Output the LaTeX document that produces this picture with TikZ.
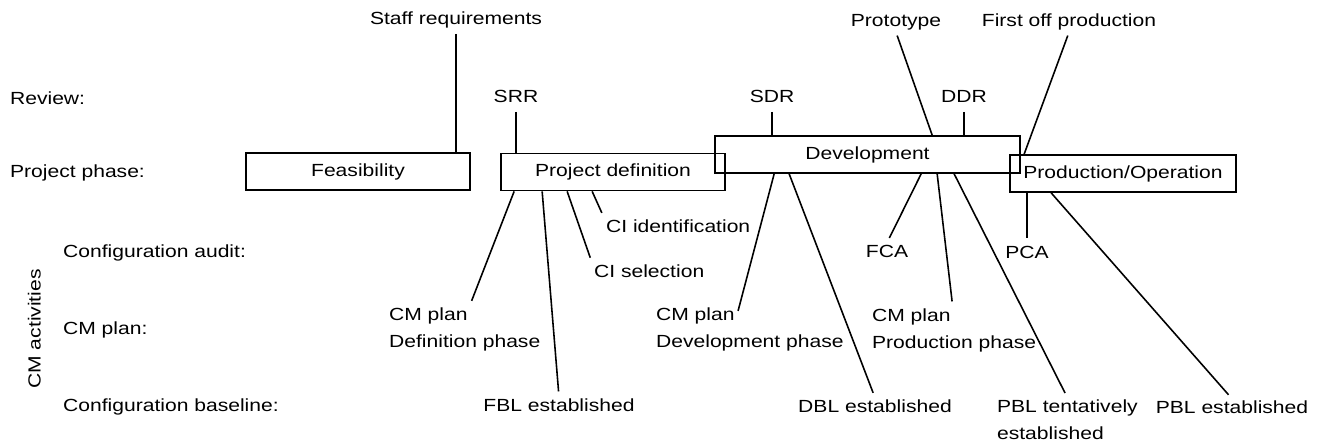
\documentclass[tikz,border=0pt]{standalone}
\usepackage{fontspec}
\setmainfont{Liberation Sans}[FakeStretch=1.2]
\usetikzlibrary{positioning}
\usetikzlibrary{calc}

\tikzset{
  lbl/.style={inner sep=1pt,text height=7.3pt,text depth=2pt},
  phasebox/.style={draw,line width=1pt,inner sep=0pt,minimum height=0.74cm,text height=7.3pt,text depth=2pt},
  conn/.style={line width=0.9pt},
  fromlbl/.style={conn,shorten <=2pt},
  tolbl/.style={conn,shorten >=3pt},
}

\begin{document}
\begin{tikzpicture}[x=0.02cm,y=-0.02cm]
\useasboundingbox (0,0) rectangle (1318,445);

% row labels
\node[lbl,anchor=west] (rev) at (8,100) {Review:};
\node[lbl,anchor=west] (phase) at (8,173) {Project phase:};
\node[lbl,anchor=west] (audit) at (61,253) {Configuration audit:};
\node[lbl,anchor=west] (plan) at (61,330) {CM plan:};
\node[lbl,anchor=west] (base) at (61,407) {Configuration baseline:};
\node[lbl,rotate=90] (cmact) at (36,329) {CM activities};

% phases
\node[phasebox,minimum width=4.48cm] (feas) at (358,171.5) {Feasibility};
\node[phasebox,minimum width=4.48cm] (pd) at (613,172) {Project definition};
\node[phasebox,minimum width=6.1cm] (dev) at (867.5,154.5) {Development};
\node[phasebox,minimum width=4.52cm] (prod) at (1123,173.5) {Production/Operation};

% reviews and milestones
\node[lbl] (staff) at (456,20) {Staff requirements};
\node[lbl] (srr) at (516,98) {SRR};
\node[lbl] (sdr) at (772,98) {SDR};
\node[lbl] (ddr) at (964,98) {DDR};
\node[lbl] (proto) at (896,22) {Prototype};
\node[lbl] (first) at (1069,22) {First off production};

\draw[fromlbl] (staff.south) -- (staff.south |- feas.north);
\draw[fromlbl] (srr.south) -- (srr.south |- pd.north);
\draw[fromlbl] (sdr.south) -- (sdr.south |- dev.north);
\draw[fromlbl] (ddr.south) -- (ddr.south |- dev.north);
\draw[fromlbl] (proto.south) -- ($(dev.north west)+(218,0)$);
\draw[fromlbl] (first.south) -- ($(prod.north west)+(15,0)$);

% CM activities
\node[lbl,anchor=west] (ciid) at (604,228) {CI identification};
\node[lbl,anchor=west] (cisel) at (592,273) {CI selection};
\node[lbl] (fca) at (887,253) {FCA};
\node[lbl] (pca) at (1027,254) {PCA};

\node[lbl,anchor=west] (cmdef) at (387,316) {CM plan};
\node[lbl,below=3.4pt of cmdef.south west,anchor=north west] (cmdefph) {Definition phase};
\node[lbl,anchor=west] (cmdev) at (654,316) {CM plan};
\node[lbl,below=3.4pt of cmdev.south west,anchor=north west] (cmdevph) {Development phase};
\node[lbl,anchor=west] (cmprod) at (870,317) {CM plan};
\node[lbl,below=3.4pt of cmprod.south west,anchor=north west] (cmprodph) {Production phase};

\node[lbl] (fbl) at (559,407) {FBL established};
\node[lbl] (dbl) at (875,408) {DBL established};
\node[lbl,anchor=west] (pbt) at (995,408) {PBL tentatively};
\node[lbl,below=3.4pt of pbt.south west,anchor=north west] (pbtest) {established};
\node[lbl] (pbe) at (1232,409) {PBL established};

\draw[tolbl] ($(pd.south west)+(14,0)$) -- (cmdef.north east);
\draw[tolbl] ($(pd.south west)+(42,0)$) -- (fbl.north);
\draw[tolbl] ($(pd.south west)+(67,0)$) -- (cisel.north west);
\draw[tolbl] ($(pd.south west)+(92,0)$) -- (ciid.north west);

\draw[tolbl] ($(dev.south west)+(60,0)$) -- (cmdev.east);
\draw[tolbl] ($(dev.south west)+(75,0)$) -- (dbl.north);
\draw[tolbl] ($(dev.south west)+(207,0)$) -- (fca.north);
\draw[tolbl] ($(dev.south west)+(223,0)$) -- (cmprod.north east);
\draw[tolbl] ($(dev.south west)+(240,0)$) -- (pbt.north);

\draw[tolbl] (pca.north |- prod.south) -- (pca.north);
\draw[tolbl] ($(prod.south west)+(42,0)$) -- (pbe.north);
\end{tikzpicture}
\end{document}
